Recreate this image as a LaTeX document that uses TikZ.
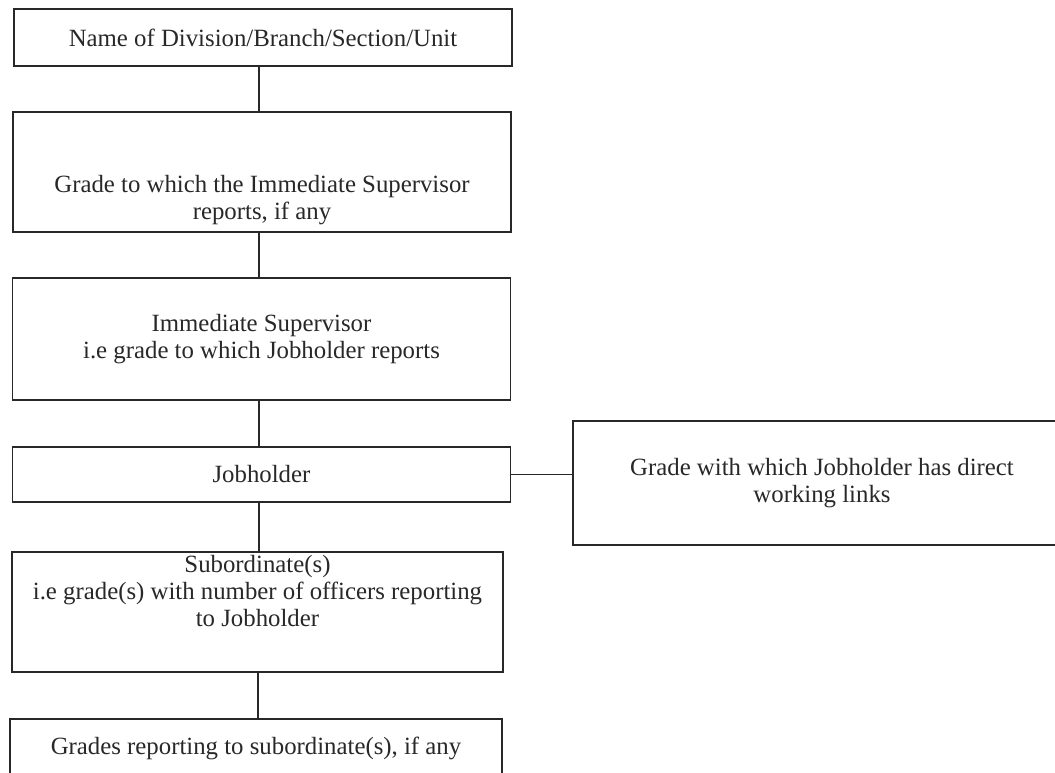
\documentclass[tikz,border=0pt]{standalone}
\usepackage{fontspec}
\setmainfont{Liberation Serif}
\usetikzlibrary{positioning}
\definecolor{ink}{RGB}{40,40,40}

\begin{document}
\begin{tikzpicture}[x=0.5pt, y=-0.5pt,
    box/.style={draw=ink, line width=0.8pt, minimum width=249pt, minimum height=28pt,
                inner sep=0pt, font=\fontsize{12.4}{13.5}\selectfont, align=center, text=ink},
    txt/.style={inner sep=0pt, font=\fontsize{12.4}{13.5}\selectfont, align=center, text=ink},
    conn/.style={draw=ink, line width=0.8pt},
  ]
    \clip (0,0) rectangle (1055,772);
    \fill[white] (0,0) rectangle (1055,772);

    \node[box, minimum height=28.5pt] (unit) at (263,37.5) {Name of Division/Branch/Section/Unit};
    \node[box, minimum height=60pt] (upper) at (262,172) {};
    \node[txt] (uppertxt) at (262,200) {Grade to which the Immediate Supervisor\\reports, if any};
    \node[box, minimum height=61pt] (super) at (261.5,339) {Immediate Supervisor\\i.e grade to which Jobholder reports};
    \node[box, minimum height=27.5pt] (job) at (261.5,474.5) {Jobholder};
    \node[box, minimum height=62pt] (links) at (822,483) {Grade with which Jobholder has direct\\working links};
    \node[box, minimum width=245.5pt, minimum height=60pt] (subord) at (257.5,612) {};
    \node[txt] (subordtxt) at (257.5,591.5) {Subordinate(s)\\i.e grade(s) with number of officers reporting\\to Jobholder};
    \node[box, minimum width=246pt, minimum height=29pt] (lower) at (256,748) {Grades reporting to subordinate(s), if any};

    \draw[conn] (unit.south -| 259,0) -- (upper.north -| 259,0);
    \draw[conn] (upper.south -| 259,0) -- (super.north -| 259,0);
    \draw[conn] (super.south -| 259,0) -- (job.north -| 259,0);
    \draw[conn] (job.east) -- (job.east -| links.west);
    \draw[conn] (job.south -| 259,0) -- (subord.north -| 259,0);
    \draw[conn] (subord.south -| 258,0) -- (lower.north -| 258,0);
\end{tikzpicture}
\end{document}
